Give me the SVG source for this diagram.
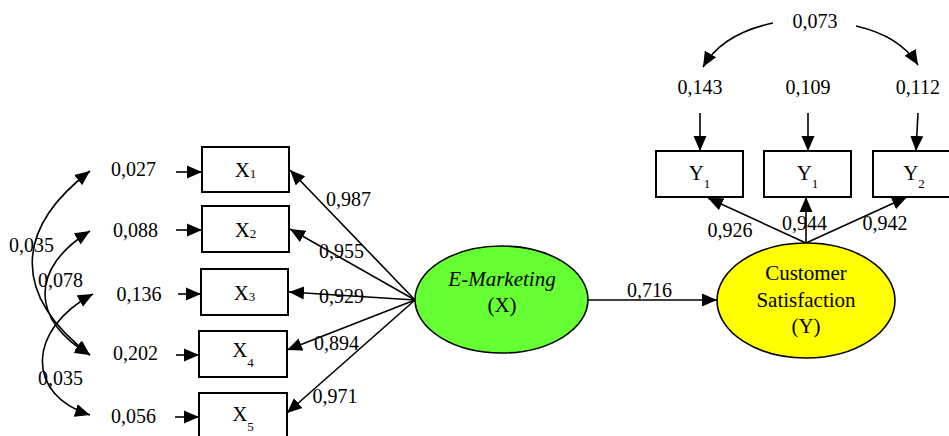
<svg xmlns="http://www.w3.org/2000/svg" width="949" height="436" viewBox="0 0 949 436" font-family="'Liberation Serif', 'Times New Roman', Times, 'DejaVu Serif', serif">
  <style>
    text { font-family: "Liberation Serif", "Times New Roman", Times, "DejaVu Serif", serif; fill: #000; }
    .num { font-size: 20px; text-anchor: middle; }
    .lbl { font-size: 21px; text-anchor: middle; }
    .sub { font-size: 13px; }
    .box { fill: #fff; stroke: #000; stroke-width: 2; }
    .lat { stroke: #000; stroke-width: 1.6; }
    .edge { fill: none; stroke: #000; stroke-width: 1.6; marker-end: url(#arrow); }
    .cov { fill: none; stroke: #000; stroke-width: 1.6; marker-start: url(#arrow); marker-end: url(#arrow); }
  </style>
  <defs>
    <marker id="arrow" markerUnits="userSpaceOnUse" markerWidth="16" markerHeight="14" refX="15" refY="7" orient="auto-start-reverse">
      <path d="M0,0.5 L15,7 L0,13.5 Z" fill="#000"/>
    </marker>
  </defs>

  <!-- connectors -->
  <g id="connectors">
    <!-- error terms into indicators -->
    <path class="edge" d="M176,172 L202,172"/>
    <path class="edge" d="M176,230 L202,230"/>
    <path class="edge" d="M178,294 L201,294"/>
    <path class="edge" d="M176,355 L199,355"/>
    <path class="edge" d="M175,417 L199,417"/>
    <!-- loadings of E-Marketing -->
    <path class="edge" d="M415,300 L290,170"/>
    <path class="edge" d="M415,300 L290,229"/>
    <path class="edge" d="M415,300 L289,292"/>
    <path class="edge" d="M415,300 L287,350"/>
    <path class="edge" d="M415,300 L287,413"/>
    <!-- structural path -->
    <path class="edge" d="M588,300 L717,300"/>
    <!-- loadings of Customer Satisfaction -->
    <path class="edge" d="M806,243 L708,198"/>
    <path class="edge" d="M806,243 L806,197"/>
    <path class="edge" d="M806,243 L907,197"/>
    <!-- error terms into Y indicators -->
    <path class="edge" d="M700,113 L700,151"/>
    <path class="edge" d="M808,113 L808,151"/>
    <path class="edge" d="M918,113 L916,151"/>
    <!-- covariances -->
    <path class="cov" d="M90,171 C13,230 13,296 90,355"/>
    <path class="cov" d="M90,231 C30,268 30,320 90,355"/>
    <path class="cov" d="M93,294 C26,330 26,395 90,415"/>
    <path class="edge" d="M773,23 Q722,34 703,67"/>
    <path class="edge" d="M856,26 Q900,36 918,65"/>
  </g>

  <!-- error terms -->
  <g id="errors">
    <text class="num" x="133.5" y="176">0,027</text>
    <text class="num" x="135.5" y="237">0,088</text>
    <text class="num" x="139" y="301">0,136</text>
    <text class="num" x="135.5" y="360">0,202</text>
    <text class="num" x="133.5" y="423">0,056</text>
    <text class="num" x="700" y="94">0,143</text>
    <text class="num" x="808" y="94">0,109</text>
    <text class="num" x="918" y="94">0,112</text>
  </g>

  <!-- coefficients -->
  <g id="coefficients">
    <text class="num" x="348.5" y="206">0,987</text>
    <text class="num" x="341.5" y="258">0,955</text>
    <text class="num" x="341.5" y="303">0,929</text>
    <text class="num" x="336.5" y="350">0,894</text>
    <text class="num" x="335" y="403">0,971</text>
    <text class="num" x="649.5" y="297">0,716</text>
    <text class="num" x="730" y="237">0,926</text>
    <text class="num" x="804.5" y="230">0,944</text>
    <text class="num" x="885" y="230">0,942</text>
    <text class="num" x="31.5" y="252">0,035</text>
    <text class="num" x="60.5" y="287">0,078</text>
    <text class="num" x="60.5" y="385">0,035</text>
    <text class="num" x="815" y="28">0,073</text>
  </g>

  <!-- indicators of E-Marketing -->
  <g id="x1">
    <rect class="box" x="202" y="147" width="87" height="45"/>
    <text class="lbl" x="245.5" y="177">X<tspan class="sub" dy="1">1</tspan></text>
  </g>
  <g id="x2">
    <rect class="box" x="202" y="206" width="87" height="46"/>
    <text class="lbl" x="245.5" y="236.5">X<tspan class="sub" dy="1">2</tspan></text>
  </g>
  <g id="x3">
    <rect class="box" x="201" y="269" width="87" height="46"/>
    <text class="lbl" x="244.5" y="299.5">X<tspan class="sub" dy="1">3</tspan></text>
  </g>
  <g id="x4">
    <rect class="box" x="199" y="331" width="88" height="46"/>
    <text class="lbl" x="243" y="357">X<tspan class="sub" dy="10">4</tspan></text>
  </g>
  <g id="x5">
    <rect class="box" x="199" y="393" width="88" height="46"/>
    <text class="lbl" x="243" y="421">X<tspan class="sub" dy="10">5</tspan></text>
  </g>

  <!-- indicators of Customer Satisfaction -->
  <g id="y1a">
    <rect class="box" x="656" y="151" width="87" height="46"/>
    <text class="lbl" x="699.5" y="180">Y<tspan class="sub" dy="8">1</tspan></text>
  </g>
  <g id="y1b">
    <rect class="box" x="764" y="151" width="87" height="46"/>
    <text class="lbl" x="807.5" y="180">Y<tspan class="sub" dy="8">1</tspan></text>
  </g>
  <g id="y2">
    <rect class="box" x="873" y="151" width="87" height="46"/>
    <text class="lbl" x="914" y="180">Y<tspan class="sub" dy="8">2</tspan></text>
  </g>

  <!-- latent variables -->
  <g id="e-marketing">
    <ellipse class="lat" cx="501.5" cy="299.5" rx="86.5" ry="53.5" fill="#66FF33"/>
    <text class="lbl" x="502" y="286" font-style="italic">E-Marketing</text>
    <text class="lbl" x="502" y="312">(X)</text>
  </g>
  <g id="customer-satisfaction">
    <ellipse class="lat" cx="806" cy="300.5" rx="89" ry="57.5" fill="#FFFF00"/>
    <text class="lbl" x="806" y="280">Customer</text>
    <text class="lbl" x="806" y="307">Satisfaction</text>
    <text class="lbl" x="806" y="333">(Y)</text>
  </g>
</svg>
